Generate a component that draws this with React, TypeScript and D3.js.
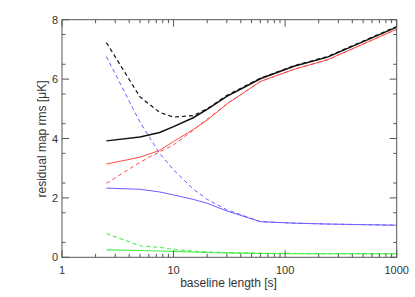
import React from "react";
import * as d3 from "d3";

const xs = [2.5, 5, 7.5, 10, 15, 20, 30, 60, 120, 240, 1000];
const blackSolid = [3.92, 4.05, 4.2, 4.4, 4.7, 4.98, 5.42, 6.01, 6.43, 6.74, 7.75];
const blackDashed = [7.23, 5.4, 4.88, 4.72, 4.77, 5.0, 5.45, 6.03, 6.45, 6.76, 7.77];
const redSolid = [3.14, 3.37, 3.6, 3.9, 4.3, 4.62, 5.16, 5.92, 6.33, 6.65, 7.68];
const redDashed = [2.49, 3.2, 3.55, 3.78, 4.28, 4.65, 5.16, 5.92, 6.33, 6.65, 7.68];
const blueSolid = [2.33, 2.29, 2.2, 2.1, 1.95, 1.82, 1.56, 1.2, 1.15, 1.12, 1.08];
const blueDashed = [6.76, 4.55, 3.5, 2.94, 2.3, 1.95, 1.6, 1.2, 1.15, 1.12, 1.08];
const greenSolid = [0.25, 0.23, 0.21, 0.2, 0.18, 0.16, 0.15, 0.13, 0.12, 0.12, 0.12];
const greenDashed = [0.8, 0.39, 0.33, 0.27, 0.21, 0.18, 0.16, 0.14, 0.13, 0.12, 0.12];

const xMajor = [1, 10, 100, 1000];
const yMajor = [0, 2, 4, 6, 8];

const series = [
  { v: greenSolid, c: "#44ee44", dash: "", w: 1.1 },
  { v: greenDashed, c: "#44ee44", dash: "4,3", w: 1.1 },
  { v: blueSolid, c: "#6a5cff", dash: "", w: 1 },
  { v: blueDashed, c: "#6a5cff", dash: "4,3", w: 1 },
  { v: redSolid, c: "#ff4a4a", dash: "", w: 1 },
  { v: redDashed, c: "#ff4a4a", dash: "4,3", w: 1 },
  { v: blackDashed, c: "#111", dash: "4,3", w: 1.2 },
  { v: blackSolid, c: "#111", dash: "", w: 1.5 },
];

export default function App() {
  const L = 62, R = 396.7, T = 19.7, B = 257.3;
  const x = d3.scaleLog().domain([1, 1000]).range([L, R]);
  const y = d3.scaleLinear().domain([0, 8]).range([B, T]);
  const line = (vals: number[]) =>
    d3.line<number>().x((_, i) => x(xs[i])).y((d) => y(d))(vals) || "";

  const xMinor: number[] = [];
  for (let e = 0; e < 3; e++) for (let k = 2; k <= 9; k++) xMinor.push(k * Math.pow(10, e));
  const yMinor = d3.range(0.5, 8, 1);
  const ax = "#555";
  const font = "Liberation Sans, Arial, sans-serif";
  return (
    <svg width={415} height={297} style={{ position: "absolute", left: 0, top: 0 }}>
      <rect width={415} height={297} fill="#fff" />
      {series.map((s, i) => (
        <path key={i} d={line(s.v)} fill="none" stroke={s.c} strokeWidth={s.w} strokeDasharray={s.dash || undefined} />
      ))}
      <rect x={L} y={T} width={R - L} height={B - T} fill="none" stroke={ax} strokeWidth={1} />
      {xMajor.map((t) => (
        <g key={"xm" + t}>
          <line x1={x(t)} x2={x(t)} y1={B} y2={B - 7} stroke={ax} />
          <line x1={x(t)} x2={x(t)} y1={T} y2={T + 7} stroke={ax} />
          <text x={x(t)} y={B + 16.5} textAnchor="middle" fontSize={11} fontFamily={font} fill="#333">{t}</text>
        </g>
      ))}
      {xMinor.map((t) => (
        <g key={"xn" + t}>
          <line x1={x(t)} x2={x(t)} y1={B} y2={B - 3.5} stroke={ax} />
          <line x1={x(t)} x2={x(t)} y1={T} y2={T + 3.5} stroke={ax} />
        </g>
      ))}
      {yMajor.map((t) => (
        <g key={"ym" + t}>
          <line x1={L} x2={L + 7} y1={y(t)} y2={y(t)} stroke={ax} />
          <line x1={R} x2={R - 7} y1={y(t)} y2={y(t)} stroke={ax} />
          <text x={L - 4} y={y(t) + 4} textAnchor="end" fontSize={11} fontFamily={font} fill="#333">{t}</text>
        </g>
      ))}
      {yMinor.map((t) => (
        <g key={"yn" + t}>
          <line x1={L} x2={L + 3.5} y1={y(t)} y2={y(t)} stroke={ax} />
          <line x1={R} x2={R - 3.5} y1={y(t)} y2={y(t)} stroke={ax} />
        </g>
      ))}
      <text x={228.5} y={287} textAnchor="middle" fontSize={12} fontFamily={font} fill="#333">baseline length [s]</text>
      <text transform={`translate(46,139) rotate(-90)`} textAnchor="middle" fontSize={12} fontFamily={font} fill="#333">residual map rms [μK]</text>
    </svg>
  );
}
